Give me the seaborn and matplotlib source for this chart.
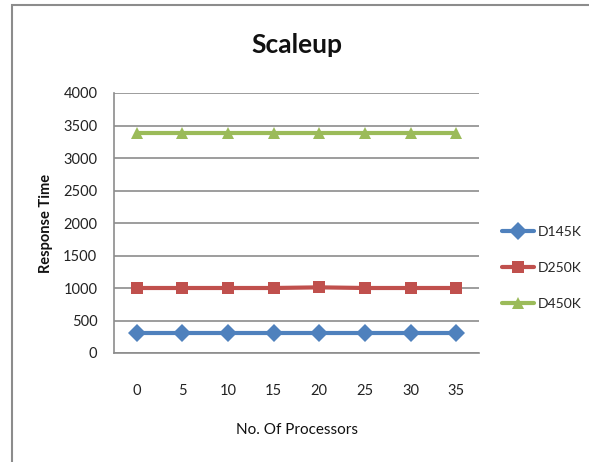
import numpy as np
import pandas as pd
import matplotlib.pyplot as plt
import seaborn as sns
from matplotlib.patches import Rectangle

# values
processors = [0, 5, 10, 15, 20, 25, 30, 35]
d145k = [310, 310, 310, 310, 310, 310, 310, 310]
d250k = [1000, 1000, 1000, 1000, 1010, 1000, 1000, 1000]
d450k = [3390, 3390, 3390, 3390, 3390, 3390, 3390, 3390]
series_names = ['D145K', 'D250K', 'D450K']
colors = ['#4F81BD', '#C0504D', '#9BBB59']
markers = ['D', 's', '^']
y_ticks = [0, 500, 1000, 1500, 2000, 2500, 3000, 3500, 4000]

sns.set_style('white')
plt.rcParams['font.family'] = ['Lato', 'DejaVu Sans']

# long format for seaborn
df = pd.DataFrame({
    'processors': processors * 3,
    'time': d145k + d250k + d450k,
    'series': np.repeat(series_names, len(processors)),
})

fig = plt.figure(figsize=(5.89, 4.62), dpi=100)
ax = fig.add_axes([114 / 589, 1 - 353 / 462, 365 / 589, 260 / 462])

sns.lineplot(data=df, x='processors', y='time', hue='series', style='series',
             palette=colors, markers=markers, dashes=False, linewidth=3,
             markersize=9, markeredgewidth=0, ax=ax)

ax.set_xlim(-2.5, 37.5)
ax.set_ylim(0, 4000)
ax.set_xticks(processors)
ax.set_yticks(y_ticks)
ax.tick_params(axis='both', length=0, labelsize=10.5, colors='#222222')
ax.tick_params(axis='x', pad=22)
ax.tick_params(axis='y', pad=12)
ax.yaxis.grid(True, color='#8c8c8c', linewidth=1.2)
ax.set_axisbelow(True)

for side in ['top', 'right']:
    ax.spines[side].set_visible(False)
for side in ['left', 'bottom']:
    ax.spines[side].set_color('#8c8c8c')
    ax.spines[side].set_linewidth(1.2)

ax.set_xlabel('No. Of Processors', fontsize=11, labelpad=18, color='#111111')
ax.set_ylabel('Response Time', fontsize=10.5, fontweight='bold', labelpad=7, color='#111111')
fig.text(297 / 589, 1 - 45 / 462, 'Scaleup', ha='center', va='center',
         fontsize=19, fontweight='bold', color='#111111')

handles, labels = ax.get_legend_handles_labels()
ax.legend(handles, labels, loc='center left', bbox_to_anchor=(502 / 589, 1 - 268 / 462),
          bbox_transform=fig.transFigure, frameon=False, fontsize=10,
          labelspacing=1.75, handlelength=2.3, handletextpad=0.25,
          borderpad=0, borderaxespad=0)

# outer chart border (only left and top edges visible in the crop)
fig.patches.append(Rectangle((12 / 589, -0.1), 1.2, 1 - 5 / 462 + 0.1, transform=fig.transFigure,
                             fill=False, edgecolor='#8c8c8c', linewidth=1.5))

fig.savefig('out.png', dpi=100)
